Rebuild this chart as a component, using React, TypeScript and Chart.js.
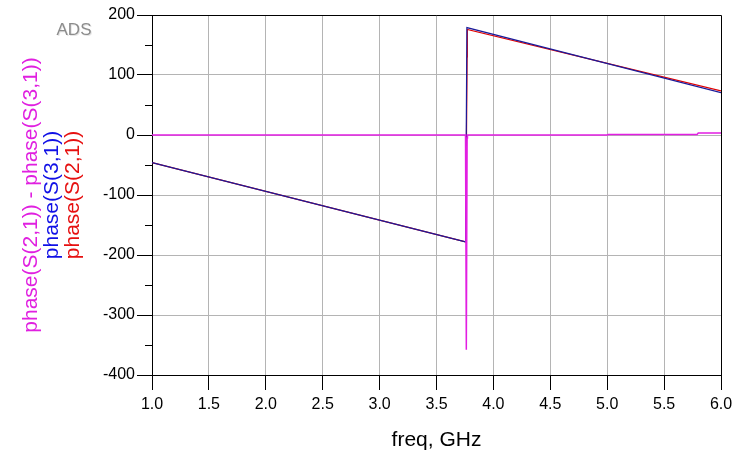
import { useEffect, useRef } from "react";
import { Chart, ChartConfiguration, Plugin, registerables } from "chart.js";
Chart.register(...registerables);

// phase(S(2,1)) trace, red
const freqS21 = [1.0, 3.755, 3.758, 3.762, 3.769, 3.771, 6.0];
const phaseS21 = [-46, -178, -47, -38, 130, 176, 73.5];

// phase(S(3,1)) trace, blue
const freqS31 = [1.0, 3.755, 3.757, 3.767, 6.0];
const phaseS31 = [-46, -178, -143, 179, 70.5];

// phase(S(2,1)) - phase(S(3,1)) trace, magenta
const freqDiff = [1.0, 3.755, 3.762, 3.769, 3.772, 5.0, 5.01, 5.79, 5.8, 6.0];
const phaseDiff = [0, 0, -358, -5, 0, 0, 1, 1, 3.3, 3.3];

// axis ticks
const freqTicks = [1.0, 1.5, 2.0, 2.5, 3.0, 3.5, 4.0, 4.5, 5.0, 5.5, 6.0];
const phaseMin = -400;
const phaseMax = 200;

const FONT = '"Liberation Sans", Arial, sans-serif';
const GRID = "#b4b4b4";

const toPoints = (xs: number[], ys: number[]) => xs.map((x, i) => ({ x, y: ys[i] }));

// frame, minor ticks, axis titles and the ADS tag
const decorPlugin: Plugin<"line"> = {
  id: "adsDecor",
  afterDraw(chart) {
    const { ctx, chartArea } = chart;
    const { left, right, top, bottom } = chartArea;
    const yScale = chart.scales.y;
    ctx.save();

    // top and right edges of the box
    ctx.strokeStyle = "#000";
    ctx.lineWidth = 1;
    ctx.beginPath();
    ctx.moveTo(left, top + 0.5);
    ctx.lineTo(right + 0.5, top + 0.5);
    ctx.lineTo(right + 0.5, bottom);
    ctx.stroke();

    // minor ticks every 50 on the y axis
    ctx.beginPath();
    for (let v = phaseMin + 50; v < phaseMax; v += 100) {
      const py = Math.round(yScale.getPixelForValue(v)) + 0.5;
      ctx.moveTo(left - 7, py);
      ctx.lineTo(left, py);
    }
    ctx.stroke();

    // stacked y axis titles
    const midY = (top + bottom) / 2;
    const titles = [
      { text: "phase(S(2,1)) - phase(S(3,1))", x: 31, color: "#e020e0" },
      { text: "phase(S(3,1))", x: 52, color: "#1010e6" },
      { text: "phase(S(2,1))", x: 73, color: "#e61010" },
    ];
    ctx.font = `21px ${FONT}`;
    ctx.textAlign = "center";
    ctx.textBaseline = "middle";
    titles.forEach((t) => {
      ctx.save();
      ctx.translate(t.x, midY);
      ctx.rotate(-Math.PI / 2);
      ctx.fillStyle = t.color;
      ctx.fillText(t.text, 0, 0);
      ctx.restore();
    });

    // x axis title
    ctx.fillStyle = "#000";
    ctx.fillText("freq, GHz", (left + right) / 2, 440);

    // ADS tag
    ctx.font = `17px ${FONT}`;
    ctx.fillStyle = "#e6e6e6";
    ctx.fillText("ADS", 75, 31);
    ctx.fillStyle = "#8c8c8c";
    ctx.fillText("ADS", 74, 30);

    ctx.restore();
  },
};

export default function App() {
  const canvasRef = useRef<HTMLCanvasElement | null>(null);
  const chartRef = useRef<Chart<"line"> | null>(null);

  useEffect(() => {
    const config: ChartConfiguration<"line"> = {
      type: "line",
      data: {
        datasets: [
          {
            label: "phase(S(2,1)) - phase(S(3,1))",
            data: toPoints(freqDiff, phaseDiff),
            borderColor: "#e21ee2",
            borderWidth: 1.5,
            order: 1,
          },
          {
            label: "phase(S(3,1))",
            data: toPoints(freqS31, phaseS31),
            borderColor: "#1a1a9a",
            borderWidth: 1.2,
            order: 2,
          },
          {
            label: "phase(S(2,1))",
            data: toPoints(freqS21, phaseS21),
            borderColor: "#e00000",
            borderWidth: 1.2,
            order: 3,
          },
        ],
      },
      options: {
        responsive: true,
        maintainAspectRatio: false,
        animation: false,
        layout: { padding: { top: 15, right: 31, left: 0, bottom: 0 } },
        elements: {
          point: { radius: 0 },
          line: { tension: 0 },
        },
        plugins: {
          legend: { display: false },
          tooltip: { enabled: false },
        },
        scales: {
          x: {
            type: "linear",
            min: freqTicks[0],
            max: freqTicks[freqTicks.length - 1],
            afterFit: (scale) => {
              scale.height = 92;
            },
            afterBuildTicks: (scale) => {
              scale.ticks = freqTicks.map((value) => ({ value }));
            },
            ticks: {
              autoSkip: false,
              maxRotation: 0,
              padding: 5,
              color: "#000",
              font: { family: FONT, size: 16 },
              callback: (v) => Number(v).toFixed(1),
            },
            grid: {
              color: (ctx) =>
                ctx.tick && ctx.tick.value > freqTicks[0] && ctx.tick.value < freqTicks[freqTicks.length - 1]
                  ? GRID
                  : "rgba(0,0,0,0)",
              tickColor: "#000",
              tickLength: 15,
              lineWidth: 1,
            },
            border: { color: "#000", width: 1 },
          },
          y: {
            type: "linear",
            min: phaseMin,
            max: phaseMax,
            afterFit: (scale) => {
              scale.width = 152;
            },
            ticks: {
              stepSize: 50,
              autoSkip: false,
              padding: 2,
              color: "#000",
              font: { family: FONT, size: 16 },
              callback: (v) => (Number(v) % 100 === 0 ? String(v) : ""),
            },
            grid: {
              color: (ctx) =>
                ctx.tick &&
                ctx.tick.value % 100 === 0 &&
                ctx.tick.value > phaseMin &&
                ctx.tick.value < phaseMax
                  ? GRID
                  : "rgba(0,0,0,0)",
              tickColor: (ctx) => (ctx.tick && ctx.tick.value % 100 === 0 ? "#000" : "rgba(0,0,0,0)"),
              tickLength: 15,
              lineWidth: 1,
            },
            border: { color: "#000", width: 1 },
          },
        },
      },
      plugins: [decorPlugin],
    };

    if (canvasRef.current) {
      const ctx = canvasRef.current.getContext("2d");
      if (ctx) {
        chartRef.current = new Chart(ctx, config);
      }
    }

    return () => {
      if (chartRef.current) {
        chartRef.current.destroy();
      }
    };
  }, []);

  return (
    <div style={{ position: "absolute", left: 0, top: 0, width: 752, height: 467, background: "#fff" }}>
      <canvas ref={canvasRef} />
    </div>
  );
}
